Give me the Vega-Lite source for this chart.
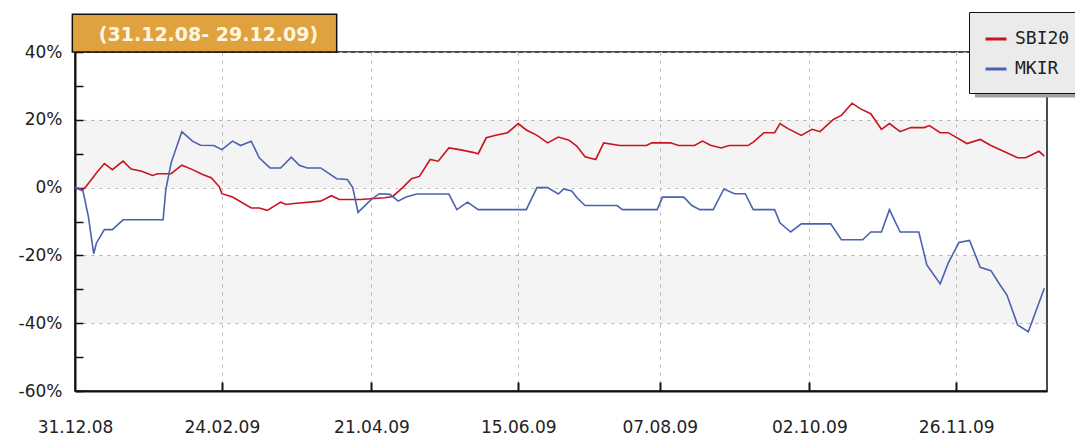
{
  "$schema": "https://vega.github.io/schema/vega-lite/v6.json",
  "width": 972,
  "height": 339,
  "autosize": {"type": "none"},
  "padding": {"left": 75, "top": 52, "right": 28, "bottom": 44},
  "background": "white",
  "config": {
    "view": {"stroke": "#111111", "strokeWidth": 1.5},
    "font": "DejaVu Sans",
    "axis": {"labelFont": "DejaVu Sans", "labelColor": "#222222"}
  },
  "resolve": {"axis": {"x": "independent", "y": "independent"}},
  "datasets": {
    "bands": [{"y1": 0, "y2": 20}, {"y1": -40, "y2": -20}],
    "titlebox": [{"x1": "2008-12-30", "x2": "2009-04-08", "y1": 40, "y2": 51.1, "xm": "2009-02-19", "ym": 45.0, "label": "(31.12.08- 29.12.09)"}],
    "shadow": [{"x1": "2009-12-03", "x2": "2010-02-01", "y1": 26.6, "y2": 45}],
    "lines": [
      {"d": "2008-12-31", "s": "SBI20", "v": 0},
      {"d": "2009-01-03", "s": "SBI20", "v": -0.6},
      {"d": "2009-01-04", "s": "SBI20", "v": 0.2},
      {"d": "2009-01-08", "s": "SBI20", "v": 4.3},
      {"d": "2009-01-11", "s": "SBI20", "v": 7.1},
      {"d": "2009-01-14", "s": "SBI20", "v": 5.3},
      {"d": "2009-01-18", "s": "SBI20", "v": 7.8},
      {"d": "2009-01-21", "s": "SBI20", "v": 5.5},
      {"d": "2009-01-25", "s": "SBI20", "v": 4.8},
      {"d": "2009-01-29", "s": "SBI20", "v": 3.6},
      {"d": "2009-01-31", "s": "SBI20", "v": 4.1},
      {"d": "2009-02-05", "s": "SBI20", "v": 4.1},
      {"d": "2009-02-09", "s": "SBI20", "v": 6.6},
      {"d": "2009-02-13", "s": "SBI20", "v": 5.3},
      {"d": "2009-02-17", "s": "SBI20", "v": 3.8},
      {"d": "2009-02-20", "s": "SBI20", "v": 2.9},
      {"d": "2009-02-23", "s": "SBI20", "v": 0.3},
      {"d": "2009-02-24", "s": "SBI20", "v": -1.8},
      {"d": "2009-02-28", "s": "SBI20", "v": -2.8},
      {"d": "2009-03-07", "s": "SBI20", "v": -6},
      {"d": "2009-03-10", "s": "SBI20", "v": -6},
      {"d": "2009-03-13", "s": "SBI20", "v": -6.7},
      {"d": "2009-03-18", "s": "SBI20", "v": -4.3},
      {"d": "2009-03-20", "s": "SBI20", "v": -5},
      {"d": "2009-03-23", "s": "SBI20", "v": -4.7},
      {"d": "2009-04-02", "s": "SBI20", "v": -4},
      {"d": "2009-04-06", "s": "SBI20", "v": -2.4},
      {"d": "2009-04-09", "s": "SBI20", "v": -3.5},
      {"d": "2009-04-17", "s": "SBI20", "v": -3.5},
      {"d": "2009-04-26", "s": "SBI20", "v": -3},
      {"d": "2009-04-29", "s": "SBI20", "v": -2.6},
      {"d": "2009-05-03", "s": "SBI20", "v": 0.2},
      {"d": "2009-05-06", "s": "SBI20", "v": 2.6},
      {"d": "2009-05-09", "s": "SBI20", "v": 3.3},
      {"d": "2009-05-13", "s": "SBI20", "v": 8.3},
      {"d": "2009-05-16", "s": "SBI20", "v": 7.8},
      {"d": "2009-05-20", "s": "SBI20", "v": 11.7},
      {"d": "2009-05-24", "s": "SBI20", "v": 11.2},
      {"d": "2009-05-29", "s": "SBI20", "v": 10.4},
      {"d": "2009-05-31", "s": "SBI20", "v": 10},
      {"d": "2009-06-03", "s": "SBI20", "v": 14.7},
      {"d": "2009-06-07", "s": "SBI20", "v": 15.5},
      {"d": "2009-06-11", "s": "SBI20", "v": 16.2},
      {"d": "2009-06-15", "s": "SBI20", "v": 18.9},
      {"d": "2009-06-18", "s": "SBI20", "v": 17},
      {"d": "2009-06-22", "s": "SBI20", "v": 15.4},
      {"d": "2009-06-26", "s": "SBI20", "v": 13.2},
      {"d": "2009-06-30", "s": "SBI20", "v": 14.9},
      {"d": "2009-07-04", "s": "SBI20", "v": 14},
      {"d": "2009-07-07", "s": "SBI20", "v": 12.2},
      {"d": "2009-07-10", "s": "SBI20", "v": 9.1},
      {"d": "2009-07-14", "s": "SBI20", "v": 8.3},
      {"d": "2009-07-17", "s": "SBI20", "v": 13.2},
      {"d": "2009-07-23", "s": "SBI20", "v": 12.4},
      {"d": "2009-08-02", "s": "SBI20", "v": 12.4},
      {"d": "2009-08-04", "s": "SBI20", "v": 13.2},
      {"d": "2009-08-11", "s": "SBI20", "v": 13.2},
      {"d": "2009-08-14", "s": "SBI20", "v": 12.4},
      {"d": "2009-08-20", "s": "SBI20", "v": 12.4},
      {"d": "2009-08-23", "s": "SBI20", "v": 13.7},
      {"d": "2009-08-26", "s": "SBI20", "v": 12.5},
      {"d": "2009-08-30", "s": "SBI20", "v": 11.7},
      {"d": "2009-09-02", "s": "SBI20", "v": 12.4},
      {"d": "2009-09-09", "s": "SBI20", "v": 12.4},
      {"d": "2009-09-11", "s": "SBI20", "v": 13.4},
      {"d": "2009-09-15", "s": "SBI20", "v": 16.2},
      {"d": "2009-09-19", "s": "SBI20", "v": 16.2},
      {"d": "2009-09-21", "s": "SBI20", "v": 18.9},
      {"d": "2009-09-24", "s": "SBI20", "v": 17.4},
      {"d": "2009-09-29", "s": "SBI20", "v": 15.4},
      {"d": "2009-10-03", "s": "SBI20", "v": 17.2},
      {"d": "2009-10-06", "s": "SBI20", "v": 16.5},
      {"d": "2009-10-11", "s": "SBI20", "v": 20.1},
      {"d": "2009-10-14", "s": "SBI20", "v": 21.3},
      {"d": "2009-10-18", "s": "SBI20", "v": 24.9},
      {"d": "2009-10-21", "s": "SBI20", "v": 23.3},
      {"d": "2009-10-25", "s": "SBI20", "v": 21.8},
      {"d": "2009-10-29", "s": "SBI20", "v": 17.2},
      {"d": "2009-11-01", "s": "SBI20", "v": 18.9},
      {"d": "2009-11-05", "s": "SBI20", "v": 16.5},
      {"d": "2009-11-09", "s": "SBI20", "v": 17.7},
      {"d": "2009-11-14", "s": "SBI20", "v": 17.7},
      {"d": "2009-11-16", "s": "SBI20", "v": 18.3},
      {"d": "2009-11-20", "s": "SBI20", "v": 16.2},
      {"d": "2009-11-23", "s": "SBI20", "v": 16.2},
      {"d": "2009-11-30", "s": "SBI20", "v": 13},
      {"d": "2009-12-05", "s": "SBI20", "v": 14.2},
      {"d": "2009-12-09", "s": "SBI20", "v": 12.4},
      {"d": "2009-12-19", "s": "SBI20", "v": 8.8},
      {"d": "2009-12-22", "s": "SBI20", "v": 8.8},
      {"d": "2009-12-27", "s": "SBI20", "v": 10.7},
      {"d": "2009-12-29", "s": "SBI20", "v": 9.3},
      {"d": "2008-12-31", "s": "MKIR", "v": 0},
      {"d": "2009-01-03", "s": "MKIR", "v": -1},
      {"d": "2009-01-05", "s": "MKIR", "v": -8.5},
      {"d": "2009-01-07", "s": "MKIR", "v": -19.5},
      {"d": "2009-01-08", "s": "MKIR", "v": -16.4},
      {"d": "2009-01-11", "s": "MKIR", "v": -12.4},
      {"d": "2009-01-14", "s": "MKIR", "v": -12.4},
      {"d": "2009-01-18", "s": "MKIR", "v": -9.5},
      {"d": "2009-02-02", "s": "MKIR", "v": -9.5},
      {"d": "2009-02-03", "s": "MKIR", "v": -0.6},
      {"d": "2009-02-05", "s": "MKIR", "v": 7.3},
      {"d": "2009-02-09", "s": "MKIR", "v": 16.5},
      {"d": "2009-02-13", "s": "MKIR", "v": 13.7},
      {"d": "2009-02-16", "s": "MKIR", "v": 12.5},
      {"d": "2009-02-21", "s": "MKIR", "v": 12.4},
      {"d": "2009-02-24", "s": "MKIR", "v": 11.2},
      {"d": "2009-02-28", "s": "MKIR", "v": 13.7},
      {"d": "2009-03-03", "s": "MKIR", "v": 12.4},
      {"d": "2009-03-07", "s": "MKIR", "v": 13.7},
      {"d": "2009-03-10", "s": "MKIR", "v": 8.8},
      {"d": "2009-03-14", "s": "MKIR", "v": 5.8},
      {"d": "2009-03-18", "s": "MKIR", "v": 5.8},
      {"d": "2009-03-22", "s": "MKIR", "v": 9},
      {"d": "2009-03-25", "s": "MKIR", "v": 6.6},
      {"d": "2009-03-28", "s": "MKIR", "v": 5.8},
      {"d": "2009-04-02", "s": "MKIR", "v": 5.8},
      {"d": "2009-04-08", "s": "MKIR", "v": 2.6},
      {"d": "2009-04-12", "s": "MKIR", "v": 2.4},
      {"d": "2009-04-14", "s": "MKIR", "v": 0},
      {"d": "2009-04-16", "s": "MKIR", "v": -7.3},
      {"d": "2009-04-21", "s": "MKIR", "v": -3.5},
      {"d": "2009-04-24", "s": "MKIR", "v": -1.8},
      {"d": "2009-04-28", "s": "MKIR", "v": -2},
      {"d": "2009-05-01", "s": "MKIR", "v": -4},
      {"d": "2009-05-04", "s": "MKIR", "v": -2.8},
      {"d": "2009-05-08", "s": "MKIR", "v": -1.9},
      {"d": "2009-05-20", "s": "MKIR", "v": -1.9},
      {"d": "2009-05-23", "s": "MKIR", "v": -6.5},
      {"d": "2009-05-27", "s": "MKIR", "v": -4.3},
      {"d": "2009-05-31", "s": "MKIR", "v": -6.5},
      {"d": "2009-06-18", "s": "MKIR", "v": -6.5},
      {"d": "2009-06-22", "s": "MKIR", "v": 0},
      {"d": "2009-06-26", "s": "MKIR", "v": 0},
      {"d": "2009-06-30", "s": "MKIR", "v": -1.9},
      {"d": "2009-07-02", "s": "MKIR", "v": -0.4},
      {"d": "2009-07-05", "s": "MKIR", "v": -1},
      {"d": "2009-07-07", "s": "MKIR", "v": -3},
      {"d": "2009-07-10", "s": "MKIR", "v": -5.3},
      {"d": "2009-07-22", "s": "MKIR", "v": -5.3},
      {"d": "2009-07-24", "s": "MKIR", "v": -6.5},
      {"d": "2009-08-06", "s": "MKIR", "v": -6.5},
      {"d": "2009-08-08", "s": "MKIR", "v": -2.8},
      {"d": "2009-08-16", "s": "MKIR", "v": -2.8},
      {"d": "2009-08-19", "s": "MKIR", "v": -5.3},
      {"d": "2009-08-22", "s": "MKIR", "v": -6.5},
      {"d": "2009-08-27", "s": "MKIR", "v": -6.5},
      {"d": "2009-08-31", "s": "MKIR", "v": -0.4},
      {"d": "2009-09-04", "s": "MKIR", "v": -1.8},
      {"d": "2009-09-08", "s": "MKIR", "v": -1.8},
      {"d": "2009-09-11", "s": "MKIR", "v": -6.5},
      {"d": "2009-09-19", "s": "MKIR", "v": -6.5},
      {"d": "2009-09-21", "s": "MKIR", "v": -10.4},
      {"d": "2009-09-25", "s": "MKIR", "v": -13.1},
      {"d": "2009-09-29", "s": "MKIR", "v": -10.7},
      {"d": "2009-10-10", "s": "MKIR", "v": -10.7},
      {"d": "2009-10-14", "s": "MKIR", "v": -15.4},
      {"d": "2009-10-22", "s": "MKIR", "v": -15.4},
      {"d": "2009-10-25", "s": "MKIR", "v": -13.1},
      {"d": "2009-10-29", "s": "MKIR", "v": -13.1},
      {"d": "2009-11-01", "s": "MKIR", "v": -6.5},
      {"d": "2009-11-05", "s": "MKIR", "v": -13.1},
      {"d": "2009-11-12", "s": "MKIR", "v": -13.1},
      {"d": "2009-11-15", "s": "MKIR", "v": -22.8},
      {"d": "2009-11-20", "s": "MKIR", "v": -28.4},
      {"d": "2009-11-23", "s": "MKIR", "v": -22.3},
      {"d": "2009-11-27", "s": "MKIR", "v": -16.2},
      {"d": "2009-12-01", "s": "MKIR", "v": -15.6},
      {"d": "2009-12-05", "s": "MKIR", "v": -23.5},
      {"d": "2009-12-09", "s": "MKIR", "v": -24.5},
      {"d": "2009-12-12", "s": "MKIR", "v": -28.2},
      {"d": "2009-12-15", "s": "MKIR", "v": -31.7},
      {"d": "2009-12-19", "s": "MKIR", "v": -40.5},
      {"d": "2009-12-23", "s": "MKIR", "v": -42.5},
      {"d": "2009-12-26", "s": "MKIR", "v": -36.1},
      {"d": "2009-12-29", "s": "MKIR", "v": -29.7}
    ]
  },
  "layer": [
    {
      "data": {"name": "bands"},
      "mark": {"type": "rect", "fill": "#000000", "opacity": 0.045},
      "encoding": {
        "y": {
          "field": "y1", "type": "quantitative",
          "scale": {"domain": [-60, 40], "nice": false, "zero": false},
          "axis": {
            "orient": "left", "title": null,
            "values": [-60, -40, -20, 0, 20, 40],
            "labelExpr": "datum.value + '%'",
            "ticks": false, "labelPadding": 13, "labelFontSize": 17,
            "domain": true, "domainColor": "#111111", "domainWidth": 2,
            "grid": true, "gridColor": "#b8b8b8", "gridDash": [3, 5], "gridWidth": 1
          }
        },
        "y2": {"field": "y2"}
      }
    },
    {
      "mark": {"type": "rule", "color": "#111111", "strokeWidth": 1.5},
      "encoding": {
        "y": {
          "datum": 0, "type": "quantitative",
          "axis": {
            "orient": "left", "title": null,
            "values": [-60, -50, -40, -30, -20, -10, 0, 10, 20, 30, 40],
            "labels": false, "domain": false, "grid": false,
            "ticks": true, "tickSize": -8, "tickColor": "#111111", "tickWidth": 1.5
          }
        }
      }
    },
    {
      "data": {"name": "shadow"},
      "mark": {"type": "rect", "fill": "#a0a0a0"},
      "encoding": {
        "x": {"field": "x1", "type": "temporal", "axis": null},
        "x2": {"field": "x2"},
        "y": {"field": "y1", "type": "quantitative", "axis": null},
        "y2": {"field": "y2"}
      }
    },
    {
      "data": {"name": "titlebox"},
      "mark": {"type": "rect", "fill": "#E0A23E", "stroke": "#111111", "strokeWidth": 1.5},
      "encoding": {
        "x": {"field": "x1", "type": "temporal", "axis": null},
        "x2": {"field": "x2"},
        "y": {"field": "y1", "type": "quantitative", "axis": null},
        "y2": {"field": "y2"}
      }
    },
    {
      "data": {"name": "titlebox"},
      "mark": {"type": "text", "font": "DejaVu Sans", "fontWeight": "bold", "fontSize": 19, "color": "#FFF6E0", "align": "center", "baseline": "middle"},
      "encoding": {
        "x": {
          "field": "xm", "type": "temporal",
          "axis": {
            "orient": "bottom", "title": null,
            "values": [
              {"year": 2009, "month": 2, "date": 24, "utc": true},
              {"year": 2009, "month": 4, "date": 21, "utc": true},
              {"year": 2009, "month": 6, "date": 15, "utc": true},
              {"year": 2009, "month": 8, "date": 7, "utc": true},
              {"year": 2009, "month": 10, "date": 2, "utc": true},
              {"year": 2009, "month": 11, "date": 26, "utc": true}
            ],
            "labels": false, "domain": false, "grid": false,
            "ticks": true, "tickSize": -9, "tickColor": "#111111", "tickWidth": 2
          }
        },
        "y": {"field": "ym", "type": "quantitative", "axis": null},
        "text": {"field": "label"}
      }
    },
    {
      "data": {"name": "lines"},
      "mark": {"type": "line", "strokeWidth": 1.6, "interpolate": "linear"},
      "encoding": {
        "x": {
          "field": "d", "type": "temporal",
          "scale": {
            "type": "utc",
            "domain": [
              {"year": 2008, "month": 12, "date": 31, "utc": true},
              {"year": 2009, "month": 12, "date": 30, "utc": true}
            ]
          },
          "axis": {
            "orient": "bottom", "title": null,
            "values": [
              {"year": 2008, "month": 12, "date": 31, "utc": true},
              {"year": 2009, "month": 2, "date": 24, "utc": true},
              {"year": 2009, "month": 4, "date": 21, "utc": true},
              {"year": 2009, "month": 6, "date": 15, "utc": true},
              {"year": 2009, "month": 8, "date": 7, "utc": true},
              {"year": 2009, "month": 10, "date": 2, "utc": true},
              {"year": 2009, "month": 11, "date": 26, "utc": true}
            ],
            "labelExpr": "utcFormat(datum.value, '%d.%m.%y')",
            "ticks": false, "labelPadding": 28, "labelFontSize": 17,
            "labelFlush": false, "labelOverlap": false,
            "domain": true, "domainColor": "#111111", "domainWidth": 2,
            "grid": true, "gridColor": "#b8b8b8", "gridDash": [3, 5], "gridWidth": 1
          }
        },
        "y": {"field": "v", "type": "quantitative", "axis": null},
        "color": {
          "field": "s", "type": "nominal",
          "scale": {"domain": ["SBI20", "MKIR"], "range": ["#C8141E", "#4A62B0"]},
          "legend": {
            "orient": "none", "legendX": 894, "legendY": -40, "title": null,
            "symbolType": "stroke", "symbolSize": 441, "symbolStrokeWidth": 3,
            "labelFont": "DejaVu Sans Mono", "labelFontSize": 18, "labelColor": "#222222",
            "labelOffset": 7, "padding": 15, "rowPadding": 9,
            "fillColor": "#ebebeb", "strokeColor": "#111111"
          }
        }
      }
    }
  ]
}
